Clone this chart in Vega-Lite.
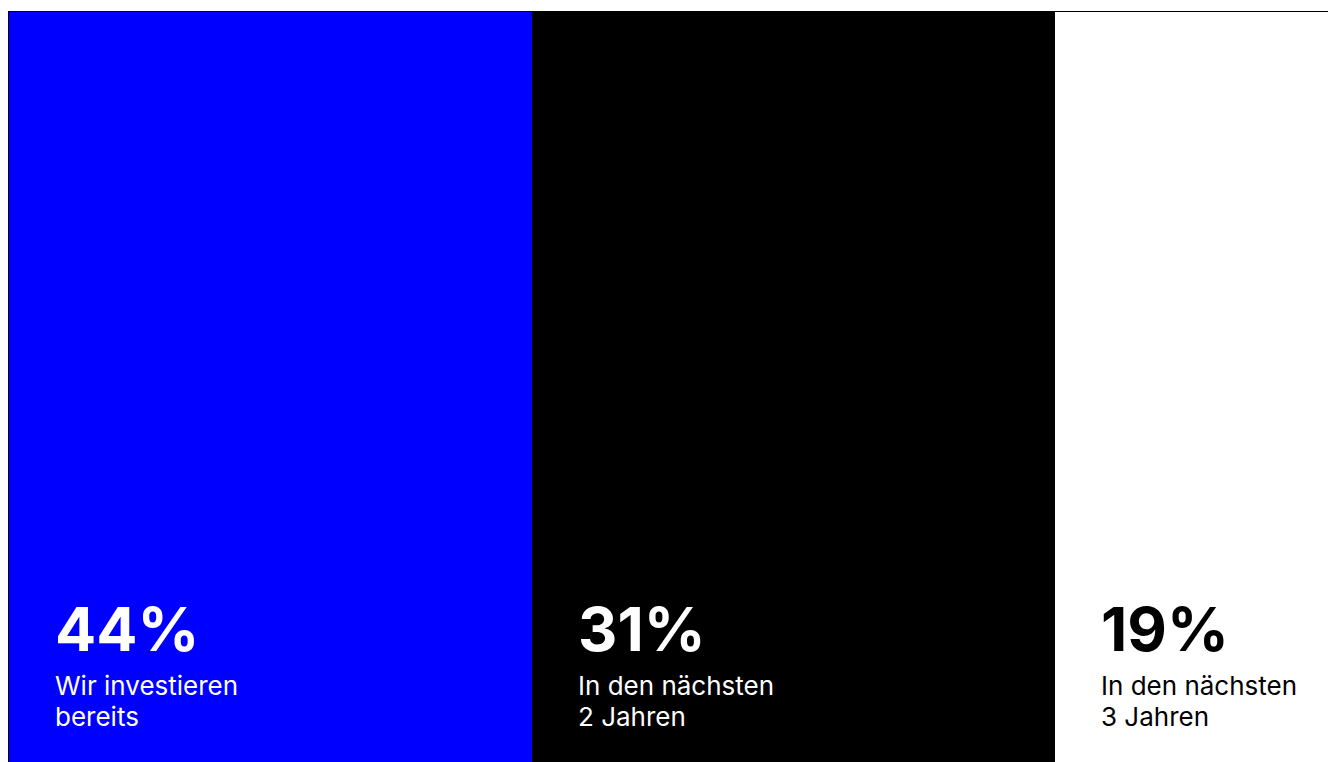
{
  "$schema": "https://vega.github.io/schema/vega-lite/v6.json",
  "width": 1569,
  "height": 760,
  "padding": {"left": 9, "top": 12, "right": 0, "bottom": 0},
  "autosize": {"type": "none"},
  "background": "white",
  "config": {"view": {"stroke": "black", "strokeWidth": 2}},
  "data": {
    "values": [
      {"category": "Wir investieren bereits", "share": 0.44, "label": "Wir investieren\nbereits"},
      {"category": "In den nächsten 2 Jahren", "share": 0.31, "label": "In den nächsten\n2 Jahren"},
      {"category": "In den nächsten 3 Jahren", "share": 0.19, "label": "In den nächsten\n3 Jahren"}
    ]
  },
  "encoding": {
    "x": {"field": "category", "type": "nominal", "sort": null, "scale": {"paddingInner": 0, "paddingOuter": 0}, "axis": null}
  },
  "layer": [
    {
      "mark": {"type": "bar"},
      "encoding": {
        "color": {"field": "category", "type": "nominal", "sort": null, "scale": {"domain": ["Wir investieren bereits", "In den nächsten 2 Jahren", "In den nächsten 3 Jahren"], "range": ["#0000ff", "#000000", "#ffffff"]}, "legend": null}
      }
    },
    {
      "mark": {"type": "text", "align": "left", "baseline": "alphabetic", "y": 639, "dx": 46, "fontSize": 61, "fontWeight": "bold", "font": "Inter", "letterSpacing": -1},
      "encoding": {
        "x": {"field": "category", "type": "nominal", "sort": null, "bandPosition": 0},
        "text": {"field": "share", "type": "quantitative", "format": ".0%"},
        "color": {"field": "category", "type": "nominal", "sort": null, "scale": {"domain": ["Wir investieren bereits", "In den nächsten 2 Jahren", "In den nächsten 3 Jahren"], "range": ["#ffffff", "#ffffff", "#000000"]}, "legend": null}
      }
    },
    {
      "mark": {"type": "text", "align": "left", "baseline": "alphabetic", "y": 683, "dx": 46, "fontSize": 26, "font": "Inter", "lineBreak": "\n", "lineHeight": 31},
      "encoding": {
        "x": {"field": "category", "type": "nominal", "sort": null, "bandPosition": 0},
        "text": {"field": "label", "type": "nominal"},
        "color": {"field": "category", "type": "nominal", "sort": null, "scale": {"domain": ["Wir investieren bereits", "In den nächsten 2 Jahren", "In den nächsten 3 Jahren"], "range": ["#ffffff", "#ffffff", "#000000"]}, "legend": null}
      }
    }
  ],
  "resolve": {"scale": {"color": "independent"}}
}
